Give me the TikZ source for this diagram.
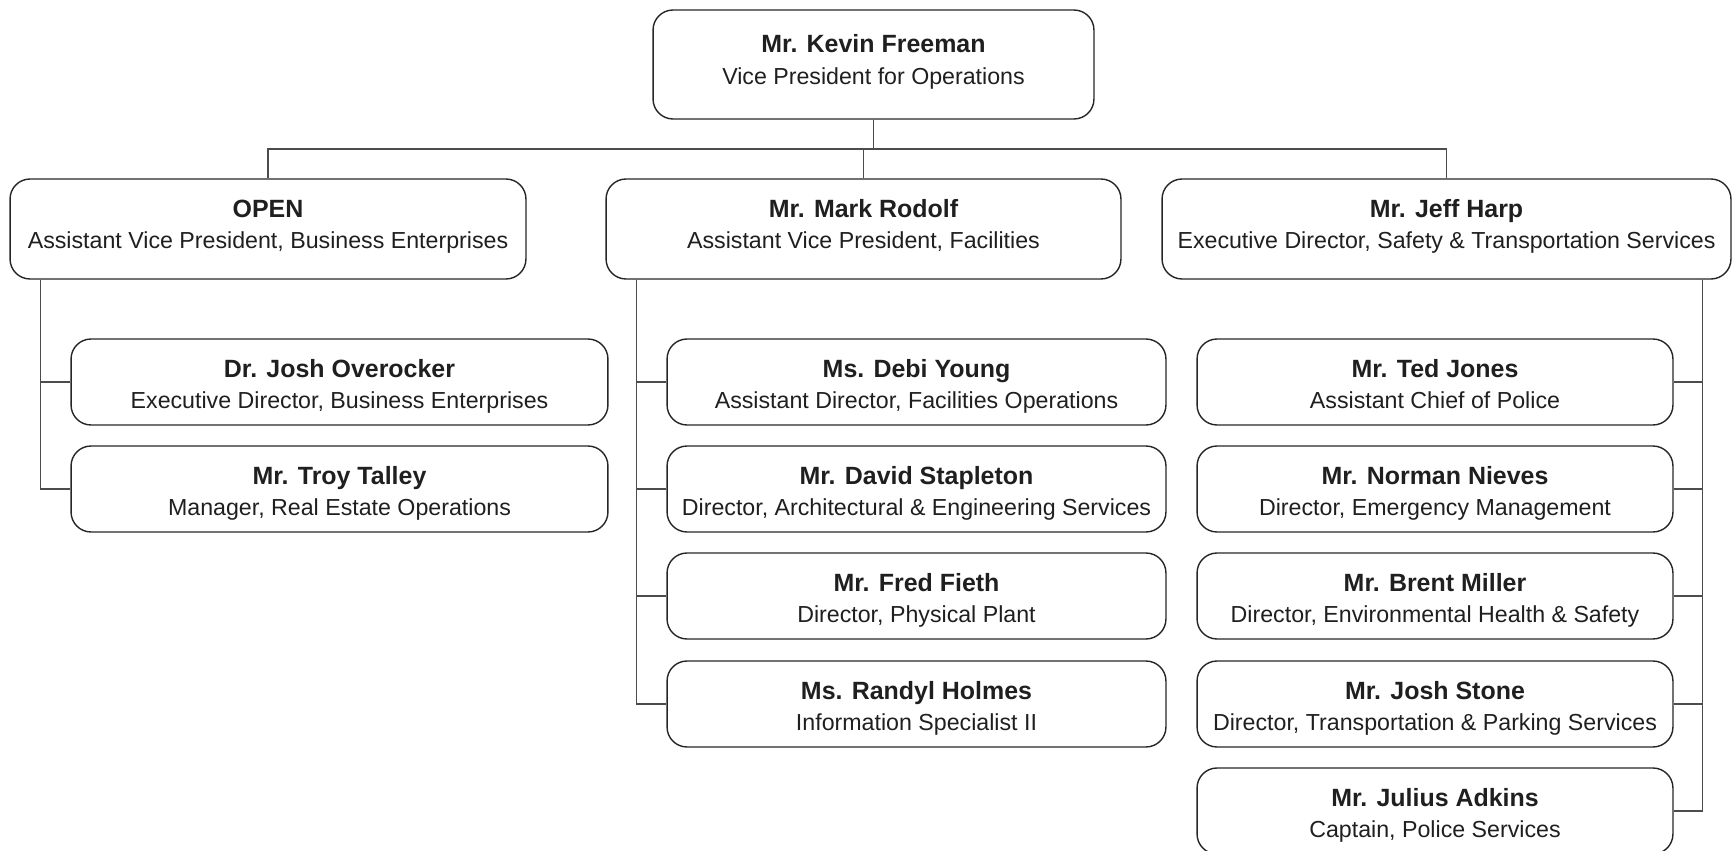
\documentclass[tikz,border=0pt]{standalone}
\usepackage{fontspec}
\setmainfont{Liberation Sans}
\usepackage{tikz}

\newcommand{\who}[1]{{\fontsize{14.2}{18}\selectfont\bfseries #1\strut}}

\begin{document}
\begin{tikzpicture}[x=0.02cm,y=-0.02cm,
  box/.style={draw=black!85, line width=0.8pt, rounded corners=0.4cm, inner sep=0pt},
  txt/.style={align=center, inner sep=0pt, text=black!88, font=\fontsize{13.2}{18}\selectfont},
  link/.style={draw=black!70, line width=0.8pt}]
\clip (0,0) rectangle (1732,851);

% vice president
\node[box, minimum width=8.82cm, minimum height=2.18cm] (vp) at (873.5,64.5) {};
\node[txt] (vp-t) at (873.5,62) {\who{Mr. Kevin Freeman}\\Vice President for Operations\strut};

% second row
\node[box, minimum width=10.32cm, minimum height=2cm] (open) at (268,229) {};
\node[txt] (open-t) at (268,226.5) {\who{OPEN}\\Assistant Vice President, Business Enterprises\strut};
\node[box, minimum width=10.3cm, minimum height=2cm] (rodolf) at (863.5,229) {};
\node[txt] (rodolf-t) at (863.5,226.5) {\who{Mr. Mark Rodolf}\\Assistant Vice President, Facilities\strut};
\node[box, minimum width=11.38cm, minimum height=2cm] (harp) at (1446.5,229) {};
\node[txt] (harp-t) at (1446.5,226.5) {\who{Mr. Jeff Harp}\\Executive Director, Safety \& Transportation Services\strut};

% business enterprises
\node[box, minimum width=10.74cm, minimum height=1.72cm] (overocker) at (339.5,382) {};
\node[txt] (overocker-t) at (339.5,386.5) {\who{Dr. Josh Overocker}\\Executive Director, Business Enterprises\strut};
\node[box, minimum width=10.74cm, minimum height=1.72cm] (talley) at (339.5,489) {};
\node[txt] (talley-t) at (339.5,493.5) {\who{Mr. Troy Talley}\\Manager, Real Estate Operations\strut};

% facilities
\node[box, minimum width=9.98cm, minimum height=1.72cm] (young) at (916.5,382) {};
\node[txt] (young-t) at (916.5,386.5) {\who{Ms. Debi Young}\\Assistant Director, Facilities Operations\strut};
\node[box, minimum width=9.98cm, minimum height=1.72cm] (stapleton) at (916.5,489) {};
\node[txt] (stapleton-t) at (916.5,493.5) {\who{Mr. David Stapleton}\\Director, Architectural \& Engineering Services\strut};
\node[box, minimum width=9.98cm, minimum height=1.72cm] (fieth) at (916.5,596) {};
\node[txt] (fieth-t) at (916.5,600.5) {\who{Mr. Fred Fieth}\\Director, Physical Plant\strut};
\node[box, minimum width=9.98cm, minimum height=1.72cm] (holmes) at (916.5,704) {};
\node[txt] (holmes-t) at (916.5,708.5) {\who{Ms. Randyl Holmes}\\Information Specialist II\strut};

% safety and transportation
\node[box, minimum width=9.52cm, minimum height=1.72cm] (jones) at (1435,382) {};
\node[txt] (jones-t) at (1435,386.5) {\who{Mr. Ted Jones}\\Assistant Chief of Police\strut};
\node[box, minimum width=9.52cm, minimum height=1.72cm] (nieves) at (1435,489) {};
\node[txt] (nieves-t) at (1435,493.5) {\who{Mr. Norman Nieves}\\Director, Emergency Management\strut};
\node[box, minimum width=9.52cm, minimum height=1.72cm] (miller) at (1435,596) {};
\node[txt] (miller-t) at (1435,600.5) {\who{Mr. Brent Miller}\\Director, Environmental Health \& Safety\strut};
\node[box, minimum width=9.52cm, minimum height=1.72cm] (stone) at (1435,704) {};
\node[txt] (stone-t) at (1435,708.5) {\who{Mr. Josh Stone}\\Director, Transportation \& Parking Services\strut};
\node[box, minimum width=9.52cm, minimum height=1.72cm] (adkins) at (1435,811) {};
\node[txt] (adkins-t) at (1435,815.5) {\who{Mr. Julius Adkins}\\Captain, Police Services\strut};

% links from the top
\coordinate (bus) at (873.5,149);
\draw[link] (vp.south) -- (bus);
\draw[link] (open.north) |- (bus) -| (harp.north);
\draw[link] (rodolf.north) -- (rodolf.north |- bus);

% links down the left side
\draw[link] ([xshift=0.62cm]open.south west) |- (overocker.west);
\draw[link] ([xshift=0.62cm]open.south west) |- (talley.west);

\draw[link] ([xshift=0.62cm]rodolf.south west) |- (young.west);
\draw[link] ([xshift=0.62cm]rodolf.south west) |- (stapleton.west);
\draw[link] ([xshift=0.62cm]rodolf.south west) |- (fieth.west);
\draw[link] ([xshift=0.62cm]rodolf.south west) |- (holmes.west);

% links down the right side
\draw[link] ([xshift=-0.58cm]harp.south east) |- (jones.east);
\draw[link] ([xshift=-0.58cm]harp.south east) |- (nieves.east);
\draw[link] ([xshift=-0.58cm]harp.south east) |- (miller.east);
\draw[link] ([xshift=-0.58cm]harp.south east) |- (stone.east);
\draw[link] ([xshift=-0.58cm]harp.south east) |- (adkins.east);
\end{tikzpicture}
\end{document}
